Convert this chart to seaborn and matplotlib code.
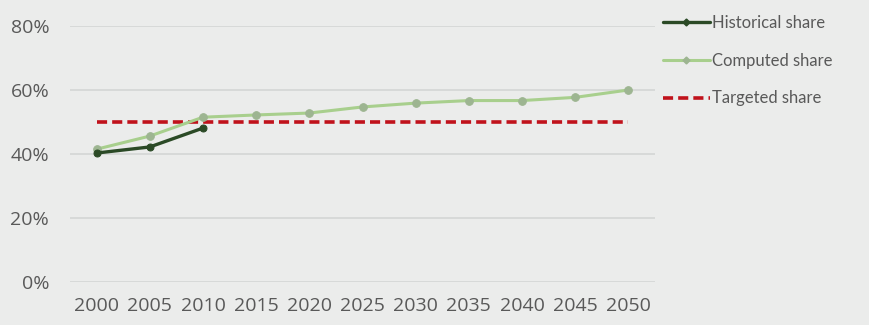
import matplotlib
matplotlib.use("Agg")
import matplotlib.pyplot as plt
import seaborn as sns
import pandas as pd
from matplotlib.ticker import PercentFormatter
from matplotlib.lines import Line2D

years = [2000, 2005, 2010, 2015, 2020, 2025, 2030, 2035, 2040, 2045, 2050]
hist_years = [2000, 2005, 2010]
historical = [0.403, 0.422, 0.481]
computed = [0.415, 0.456, 0.515, 0.522, 0.528, 0.547, 0.559, 0.567, 0.567, 0.577, 0.600]
target = [0.50] * len(years)
yticks = [0, 0.2, 0.4, 0.6, 0.8]
labels = ["Historical share", "Computed share", "Targeted share"]

bg = "#ebeceb"
sns.set_style("white", {"axes.facecolor": bg, "figure.facecolor": bg})
plt.rcParams["font.family"] = ["Open Sans", "DejaVu Sans"]

fig = plt.figure(figsize=(8.69, 3.25), dpi=100)
ax = fig.add_axes([70 / 869, 43 / 325, (655 - 70) / 869, 256 / 325])

df_c = pd.DataFrame({"year": years, "share": computed})
df_h = pd.DataFrame({"year": hist_years, "share": historical})
df_t = pd.DataFrame({"year": years, "share": target})

c_green = "#a8cf8d"
c_mark = "#9db591"
c_dark = "#2b4a26"
c_red = "#c0121b"
dash = (0, (2.8, 1.4))

sns.lineplot(data=df_t, x="year", y="share", ax=ax, color=c_red, lw=2.6,
             linestyle=dash, zorder=2)
sns.lineplot(data=df_c, x="year", y="share", ax=ax, color=c_green, lw=2.2,
             marker="o", markersize=5.5, markerfacecolor=c_mark,
             markeredgecolor=c_mark, zorder=3)
sns.lineplot(data=df_h, x="year", y="share", ax=ax, color=c_dark, lw=2.4,
             marker="o", markersize=5, markerfacecolor=c_dark,
             markeredgecolor=c_dark, zorder=4)

ax.set_xlim(1997.5, 2052.5)
ax.set_ylim(0, 0.8)
ax.set_xticks(years)
ax.set_xticklabels([str(y) for y in years])
ax.set_yticks(yticks)
ax.yaxis.set_major_formatter(PercentFormatter(1.0, decimals=0))
ax.grid(axis="y", color="#d4d6d5", lw=1.2)
ax.set_axisbelow(True)
for s in ax.spines.values():
    s.set_visible(False)
ax.set_xlabel("")
ax.set_ylabel("")
ax.tick_params(axis="both", length=0, labelsize=14, colors="#595959")
ax.tick_params(axis="x", pad=11)
ax.tick_params(axis="y", pad=15)

handles = [
    Line2D([], [], color=c_dark, lw=2.4, marker="D", markersize=3.5),
    Line2D([], [], color=c_green, lw=2.2, marker="D", markersize=3.5,
           markerfacecolor=c_mark, markeredgecolor=c_mark),
    Line2D([], [], color=c_red, lw=2.6, linestyle=dash),
]
fig.legend(handles, labels, loc="upper left", bbox_to_anchor=(663 / 869, 1 - 15 / 325),
           frameon=False, prop={"family": ["Lato", "DejaVu Sans"], "size": 12},
           labelcolor="#595959", handlelength=2.8,
           handletextpad=0.15, labelspacing=1.3, borderaxespad=0, borderpad=0)

fig.savefig("out.png", dpi=100, facecolor=bg)
